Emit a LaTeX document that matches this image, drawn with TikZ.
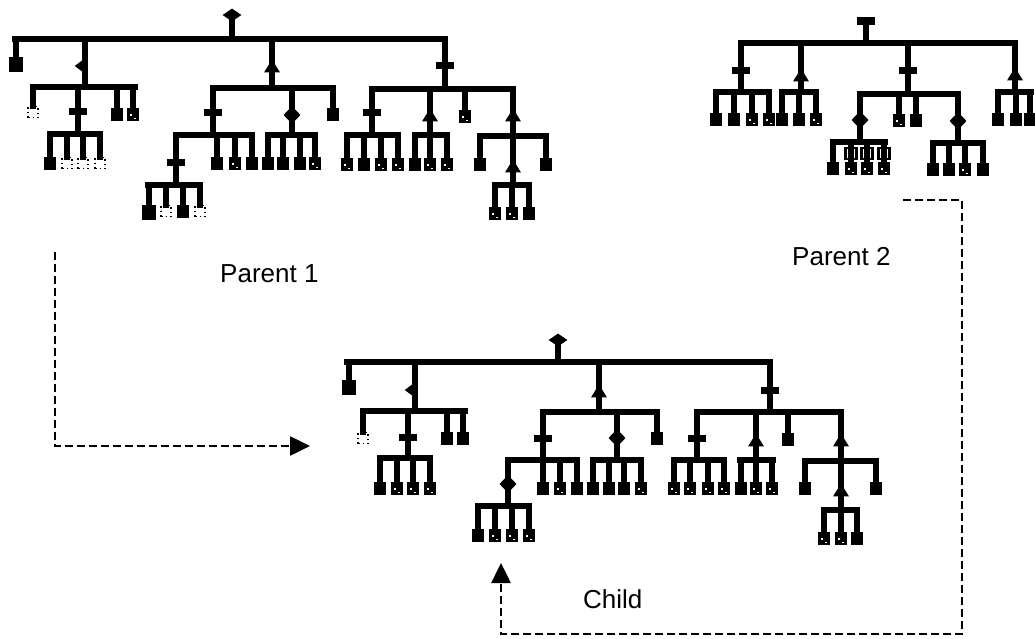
\documentclass[tikz,border=0pt]{standalone}
\usepackage{fontspec}
\setmainfont{Liberation Sans}
\usetikzlibrary{shapes.geometric,arrows.meta}
\newcommand\trNode[8]{%
  \coordinate (#1-t) at (#2,#3);
  \coordinate (#1-b) at (#2,#4);
  \coordinate (#1-l) at (#5,#4);
  \coordinate (#1-r) at (#6,#4);
  \draw[edge] (#1-t) -- (#1-b);
  \draw[edge] (#1-l) -- (#1-r);
  \node[#7] (#1-s) at (#2,#8) {};
}
\newcommand\trLeaf[5]{%
  \coordinate (#1-t) at (#2,#3);
  \node[#5] (#1) at (#2,#4) {};
  \draw[edge] (#1-t) -- (#1.north);
}
\tikzset{
  edge/.style={line width=5.5pt, line cap=rect},
  leaf/.style={rectangle, fill=black, inner sep=0pt, minimum width=12pt, minimum height=13pt, anchor=north},
  leafb/.style={leaf, minimum width=14pt, minimum height=15pt},
  leafn/.style={leaf, path picture={
     \fill[white] ([xshift=-3pt,yshift=1pt]path picture bounding box.center) rectangle ++(2,2);
     \fill[white] ([xshift=1pt,yshift=-3pt]path picture bounding box.center) rectangle ++(2,1.5);}},
  leaff/.style={rectangle, inner sep=0pt, minimum width=10pt, minimum height=11pt, anchor=north,
     draw=black, line width=1.2pt, dash pattern=on 1.5pt off 3pt, fill=white},
  leafo/.style={rectangle, inner sep=0pt, minimum width=11pt, minimum height=11pt, anchor=north,
     draw=black, line width=2.5pt, fill=white},
  dia/.style={diamond, fill=black, inner sep=0pt, minimum width=17pt, minimum height=18pt},
  rootdia/.style={diamond, fill=black, inner sep=0pt, minimum width=19pt, minimum height=13pt},
  hdia/.style={isosceles triangle, shape border rotate=180, isosceles triangle stretches,
     fill=black, inner sep=0pt, minimum width=15pt, minimum height=10pt, xshift=-4pt},
  tri/.style={isosceles triangle, shape border rotate=90, isosceles triangle stretches,
     fill=black, inner sep=0pt, minimum width=16pt, minimum height=13pt},
  plus/.style={rectangle, fill=black, inner sep=0pt, minimum width=18pt, minimum height=7pt},
  tbar/.style={rectangle, fill=black, inner sep=0pt, minimum width=18pt, minimum height=8pt},
  flow/.style={line width=2.6pt, dash pattern=on 8pt off 4pt},
  flowarrow/.style={flow, -{Triangle[length=20pt,width=19pt]}},
  lbl/.style={inner sep=0pt, anchor=base west, font=\fontsize{26}{30}\selectfont}
}
\begin{document}
\begin{tikzpicture}[x=1pt,y=-1pt]
\path[use as bounding box] (0,0) rectangle (1035,639);

% ---------------- Parent 1 ----------------
\trNode{a0}{232}{15}{39}{15}{445}{rootdia}{15}
\trLeaf{a1}{16}{39}{57}{leafb}
\trNode{a2}{85}{39}{87}{33}{135}{hdia}{66}
 \trLeaf{a21}{33}{87}{106}{leaff}
 \trNode{a22}{78}{87}{134}{50}{100}{plus}{112}
  \trLeaf{a221}{50}{134}{157}{leaf}
  \trLeaf{a222}{67}{134}{157}{leaff}
  \trLeaf{a223}{83}{134}{157}{leaff}
  \trLeaf{a224}{100}{134}{157}{leaff}
 \trLeaf{a23}{117}{87}{108}{leaf}
 \trLeaf{a24}{133}{87}{108}{leafn}
\trNode{a3}{272}{39}{88}{213}{333}{tri}{68}
 \trNode{a31}{213}{88}{135}{176}{252}{plus}{113}
  \trNode{a311}{176}{135}{185}{148}{200}{plus}{163}
   \trLeaf{a3111}{149}{185}{205}{leafb}
   \trLeaf{a3112}{166}{185}{205}{leaff}
   \trLeaf{a3113}{183}{185}{205}{leaf}
   \trLeaf{a3114}{200}{185}{205}{leaff}
  \trLeaf{a312}{217}{135}{157}{leaf}
  \trLeaf{a313}{235}{135}{157}{leafn}
  \trLeaf{a314}{252}{135}{157}{leaf}
 \trNode{a32}{292}{88}{135}{268}{315}{dia}{115}
  \trLeaf{a321}{268}{135}{157}{leaf}
  \trLeaf{a322}{283}{135}{157}{leaf}
  \trLeaf{a323}{300}{135}{157}{leaf}
  \trLeaf{a324}{315}{135}{157}{leafn}
 \trLeaf{a33}{333}{88}{108}{leaf}
\trNode{a4}{445}{39}{89}{372}{513}{plus}{66}
 \trNode{a41}{372}{89}{135}{347}{398}{plus}{113}
  \trLeaf{a411}{347}{135}{158}{leafn}
  \trLeaf{a412}{364}{135}{158}{leaf}
  \trLeaf{a413}{381}{135}{158}{leafn}
  \trLeaf{a414}{398}{135}{158}{leafn}
 \trNode{a42}{430}{89}{135}{415}{447}{tri}{117}
  \trLeaf{a421}{415}{135}{158}{leaf}
  \trLeaf{a422}{430}{135}{158}{leafn}
  \trLeaf{a423}{447}{135}{158}{leafn}
 \trLeaf{a43}{465}{89}{110}{leafn}
 \trNode{a44}{513}{89}{136}{480}{546}{tri}{117}
  \trLeaf{a441}{480}{136}{158}{leaf}
  \trNode{a442}{513}{136}{185}{495}{529}{tri}{168}
   \trLeaf{a4421}{495}{185}{207}{leafn}
   \trLeaf{a4422}{512}{185}{207}{leafn}
   \trLeaf{a4423}{529}{185}{207}{leaf}
  \trLeaf{a443}{546}{136}{158}{leaf}

% ---------------- Parent 2 ----------------
\trNode{b0}{866}{21}{43}{741}{1015}{tbar}{21}
\trNode{b1}{741}{43}{92}{716}{769}{plus}{71}
 \trLeaf{b11}{716}{92}{113}{leaf}
 \trLeaf{b12}{734}{92}{113}{leaf}
 \trLeaf{b13}{752}{92}{113}{leafn}
 \trLeaf{b14}{769}{92}{113}{leafn}
\trNode{b2}{801}{43}{92}{782}{816}{tri}{77}
 \trLeaf{b21}{782}{92}{113}{leaf}
 \trLeaf{b22}{799}{92}{113}{leaf}
 \trLeaf{b23}{816}{92}{113}{leafn}
\trNode{b3}{908}{43}{94}{860}{958}{plus}{71}
 \trNode{b31}{860}{94}{142}{833}{885}{dia}{120}
  \node[leafo] (b31u2) at (851,147) {};
  \node[leafo] (b31u3) at (867,147) {};
  \node[leafo] (b31u4) at (884,147) {};
  \trLeaf{b311}{833}{142}{162}{leaf}
  \trLeaf{b312}{851}{142}{162}{leafn}
  \trLeaf{b313}{867}{142}{162}{leafn}
  \trLeaf{b314}{884}{142}{162}{leafn}
 \trLeaf{b32}{899}{94}{114}{leafn}
 \trLeaf{b33}{916}{94}{114}{leaf}
 \trNode{b34}{958}{94}{143}{933}{983}{dia}{121}
  \trLeaf{b341}{933}{143}{163}{leaf}
  \trLeaf{b342}{949}{143}{163}{leaf}
  \trLeaf{b343}{965}{143}{163}{leafn}
  \trLeaf{b344}{983}{143}{163}{leaf}
\trNode{b4}{1015}{43}{92}{998}{1031}{tri}{76}
 \trLeaf{b41}{998}{92}{113}{leaf}
 \trLeaf{b42}{1016}{92}{113}{leaf}
 \trLeaf{b43}{1030}{92}{113}{leaf}

% ---------------- Child ----------------
\trNode{c0}{558}{340}{362}{347}{770}{rootdia}{340}
\trLeaf{c1}{349}{362}{380}{leafb}
\trNode{c2}{415}{362}{411}{363}{465}{hdia}{390}
 \trLeaf{c21}{363}{411}{432}{leaff}
 \trNode{c22}{408}{411}{458}{380}{430}{plus}{437}
  \trLeaf{c221}{380}{458}{482}{leaf}
  \trLeaf{c222}{397}{458}{482}{leafn}
  \trLeaf{c223}{413}{458}{482}{leafn}
  \trLeaf{c224}{430}{458}{482}{leafn}
 \trLeaf{c23}{447}{411}{432}{leaf}
 \trLeaf{c24}{463}{411}{432}{leaf}
\trNode{c3}{599}{362}{412}{543}{657}{tri}{393}
 \trNode{c31}{543}{412}{460}{508}{577}{plus}{438}
  \trNode{c311}{508}{460}{506}{478}{529}{dia}{484}
   \trLeaf{c3111}{478}{506}{529}{leaf}
   \trLeaf{c3112}{495}{506}{529}{leafn}
   \trLeaf{c3113}{512}{506}{529}{leafn}
   \trLeaf{c3114}{529}{506}{529}{leafn}
  \trLeaf{c312}{543}{460}{482}{leaf}
  \trLeaf{c313}{560}{460}{482}{leafn}
  \trLeaf{c314}{577}{460}{482}{leaf}
 \trNode{c32}{617}{412}{460}{593}{641}{dia}{438}
  \trLeaf{c321}{593}{460}{482}{leaf}
  \trLeaf{c322}{609}{460}{482}{leaf}
  \trLeaf{c323}{624}{460}{482}{leaf}
  \trLeaf{c324}{641}{460}{482}{leafn}
 \trLeaf{c33}{657}{412}{432}{leaf}
\trNode{c4}{770}{362}{412}{697}{841}{plus}{390}
 \trNode{c41}{697}{412}{460}{674}{724}{plus}{438}
  \trLeaf{c411}{674}{460}{482}{leafn}
  \trLeaf{c412}{690}{460}{482}{leafn}
  \trLeaf{c413}{708}{460}{482}{leafn}
  \trLeaf{c414}{724}{460}{482}{leafn}
 \trNode{c42}{756}{412}{460}{740}{773}{tri}{442}
  \trLeaf{c421}{741}{460}{482}{leaf}
  \trLeaf{c422}{756}{460}{482}{leafn}
  \trLeaf{c423}{772}{460}{482}{leafn}
 \trLeaf{c43}{788}{412}{433}{leaf}
 \trNode{c44}{841}{412}{461}{805}{876}{tri}{442}
  \trLeaf{c441}{805}{461}{482}{leaf}
  \trNode{c442}{841}{461}{510}{824}{857}{tri}{492}
   \trLeaf{c4421}{824}{510}{532}{leafn}
   \trLeaf{c4422}{841}{510}{532}{leafn}
   \trLeaf{c4423}{857}{510}{532}{leaf}
  \trLeaf{c443}{876}{461}{482}{leaf}

% ---------------- labels ----------------
\node[lbl] (p1) at (220,282) {Parent 1};
\node[lbl] (p2) at (792,265) {Parent 2};
\node[lbl] (ch) at (583,608) {Child};

% ---------------- dashed flows ----------------
\coordinate (f1a) at (55,252);
\coordinate (f1b) at (55,446);
\coordinate (f1c) at (310,446);
\draw[flowarrow] (f1a) -- (f1b) -- (f1c);
\coordinate (f2a) at (903,200);
\coordinate (f2b) at (962,200);
\coordinate (f2c) at (962,634);
\coordinate (f2d) at (501,634);
\coordinate (f2e) at (501,563);
\draw[flowarrow] (f2a) -- (f2b) -- (f2c) -- (f2d) -- (f2e);
\end{tikzpicture}
\end{document}
